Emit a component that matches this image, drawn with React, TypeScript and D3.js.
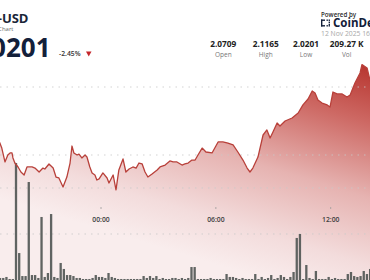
import React from "react";
import * as d3 from "d3";

const W = 370;
const H = 280;

// ---- data ----
const priceTimes = [
  "18:40","18:43","18:49","18:59","19:08","19:15","19:21","19:24","19:30","19:40",
  "19:49","19:59","20:08","20:24","20:33","20:46","20:58","21:04","21:17","21:30",
  "21:39","21:48","22:01","22:13","22:23","22:29","22:35","22:45","22:51","23:00",
  "23:10","23:16","23:25","23:32","23:41","23:47","23:54","00:06","00:19","00:25",
  "00:38","00:47","00:56","01:09","01:18","01:28","01:40","01:50","01:59","02:09",
  "02:18","02:27","02:40","02:56","03:05","03:21","03:36","03:46","03:58","04:14",
  "04:23","04:33","04:45","04:55","05:04","05:17","05:29","05:48","06:07","06:22",
  "06:38","06:54","07:09","07:25","07:38","07:47","07:56","08:12","08:28","08:40",
  "08:50","08:59","09:12","09:21","09:37","09:59","10:18","10:33","10:49","11:02",
  "11:11","11:20","11:33","11:49","11:58","12:07","12:20","12:36","12:51","13:01",
  "13:16","13:32","13:38","13:54","14:03","14:10"
];
const prices = [
  2.0603,2.0588,2.0551,2.0449,2.0500,2.0515,2.0515,2.0478,2.0441,2.0412,
  2.0375,2.0353,2.0412,2.0412,2.0404,2.0375,2.0404,2.0397,2.0434,2.0404,
  2.0338,2.0331,2.0265,2.0338,2.0441,2.0566,2.0515,2.0500,2.0507,2.0478,
  2.0500,2.0485,2.0412,2.0368,2.0353,2.0316,2.0324,2.0368,2.0331,2.0294,
  2.0353,2.0243,2.0390,2.0471,2.0375,2.0397,2.0412,2.0404,2.0441,2.0434,
  2.0375,2.0338,2.0360,2.0390,2.0412,2.0426,2.0456,2.0449,2.0449,2.0426,
  2.0434,2.0441,2.0463,2.0463,2.0500,2.0551,2.0522,2.0515,2.0596,2.0596,
  2.0588,2.0574,2.0522,2.0463,2.0404,2.0375,2.0404,2.0485,2.0647,2.0684,
  2.0625,2.0669,2.0735,2.0713,2.0750,2.0772,2.0809,2.0868,2.0912,2.0971,
  2.0956,2.0904,2.0882,2.0868,2.0853,2.0963,2.0949,2.0949,2.0926,2.0941,
  2.1029,2.1103,2.1165,2.1140,2.1051,2.1015
];

// volume in thousands, one bar every 10 minutes from 18:40
const volumeStart = "18:40";
const volumes = [
  0.22,0.22,0.33,0.11,0.11,12.72,2.93,0.43,0.43,10.65,
  0.54,0.54,0.22,6.85,0.33,0.76,7.17,0.33,0.22,1.85,
  1.20,0.54,0.54,0.43,0.22,0.22,0.11,0.11,0.11,0.22,
  0.54,0.33,0.33,0.22,0.76,0.33,0.22,0.11,0.11,0.11,
  0.11,0.11,0.11,0.11,0.11,0.43,0.22,0.43,0.22,0.43,
  0.11,0.22,0.11,0.11,0.22,0.22,0.11,0.22,0.11,0.22,
  1.41,1.41,0.11,0.11,0.11,0.11,0.22,0.11,0.11,0.11,
  0.11,0.65,0.33,0.33,0.22,0.11,0.22,0.11,0.11,0.11,
  0.65,0.11,0.33,0.11,0.22,0.54,0.11,0.22,0.54,0.33,
  0.11,0.33,0.87,4.57,5.00,0.11,1.63,0.22,0.11,0.98,
  0.11,0.11,0.11,0.33,0.11,0.22,0.11,0.11,0.11,0.65,
  0.87,0.43,0.33,0.43,0.98,0.65,1.20,0.50
];

const priceGrid = [2.1, 2.05];
const volumeGrid = [5, 10];
const timeTicks = ["00:00", "06:00", "12:00"];

const statValues = ["2.0709", "2.1165", "2.0201", "209.27 K"];
const statLabels = ["Open", "High", "Low", "Vol"];

const symbol = "XRP-USD";
const lastPrice = "2.0201";
const change = "-2.45%";
const dateText = "12 Nov 2025 16:00";

// ---- helpers ----
function parseT(s: string): Date {
  const [h, m] = s.split(":").map(Number);
  const day = h >= 18 ? 11 : 12;
  return new Date(2025, 10, day, h, m);
}

const FONT = "'Open Sans', 'Noto Sans', sans-serif";

export default function App() {
  const x = d3
    .scaleTime()
    .domain([parseT("00:00"), parseT("12:00")])
    .range([101, 330.7]);
  const y = d3.scaleLinear().domain([2.05, 2.1]).range([155, 87]);
  const yv = d3.scaleLinear().domain([0, 10]).range([280, 188]);

  const pts = priceTimes.map((t, i) => ({ t: parseT(t), p: prices[i] }));
  const line = d3
    .line<{ t: Date; p: number }>()
    .x((d) => x(d.t))
    .y((d) => y(d.p));
  const area = d3
    .area<{ t: Date; p: number }>()
    .x((d) => x(d.t))
    .y0(H)
    .y1((d) => y(d.p));

  const vStart = parseT(volumeStart);
  const bars = volumes.map((v, i) => ({
    t: d3.timeMinute.offset(vStart, i * 10),
    v,
  }));
  const step = x(d3.timeMinute.offset(vStart, 10)) - x(vStart);
  const barW = step * 0.72;

  const statCenters = [223.3, 265.8, 306, 346.7];

  return (
    <svg
      width={W}
      height={H}
      style={{ position: "absolute", left: 0, top: 0, background: "#fff" }}
      fontFamily={FONT}
    >
      <defs>
        <linearGradient
          id="areaGrad"
          gradientUnits="userSpaceOnUse"
          x1={370}
          y1={60}
          x2={300}
          y2={290}
        >
          <stop offset="0" stopColor="#b5302a" />
          <stop offset="0.25" stopColor="#cd6863" />
          <stop offset="0.55" stopColor="#e6b3b1" />
          <stop offset="0.82" stopColor="#f3dcdc" />
          <stop offset="1" stopColor="#f9eded" />
        </linearGradient>
      </defs>

      {/* area */}
      <path d={area(pts) || ""} fill="url(#areaGrad)" />

      {/* grid */}
      {priceGrid.map((g) => (
        <line
          key={"pg" + g}
          x1={0}
          x2={W}
          y1={y(g)}
          y2={y(g)}
          stroke="#c9c9c9"
          strokeWidth={1}
          strokeDasharray="1.5 5"
          opacity={0.8}
        />
      ))}
      {volumeGrid.map((g) => (
        <line
          key={"vg" + g}
          x1={0}
          x2={W}
          y1={yv(g)}
          y2={yv(g)}
          stroke="#c9c9c9"
          strokeWidth={1}
          strokeDasharray="1.5 5"
          opacity={0.8}
        />
      ))}

      {/* volume bars */}
      {bars.map((b, i) => (
        <rect
          key={"b" + i}
          x={x(b.t)}
          y={yv(b.v)}
          width={barW}
          height={yv(0) - yv(b.v)}
          fill="#4f5452"
          opacity={0.9}
        />
      ))}

      {/* price line */}
      <path
        d={line(pts) || ""}
        fill="none"
        stroke="#b8403a"
        strokeWidth={1.3}
        strokeLinejoin="round"
      />

      {/* time ticks */}
      {timeTicks.map((t) => (
        <g key={t} transform={`translate(${x(parseT(t))},0)`}>
          <line y1={207} y2={209} stroke="#999" strokeWidth={0.8} />
          <text
            y={222}
            textAnchor="middle"
            fontSize={6.8}
            fontWeight={600}
            fill="#3d3d3d"
          >
            {t}
          </text>
        </g>
      ))}

      {/* header left */}
      <text x={28.5} y={22.5} textAnchor="end" fontSize={13} fontWeight={700} fill="#1a2638">
        {symbol}
      </text>
      <text x={13.5} y={31} textAnchor="end" fontSize={6} fill="#6a6a6a">
        Price Chart
      </text>
      <text x={50.5} y={57} textAnchor="end" fontSize={26} fontWeight={700} fill="#13203a">
        {lastPrice}
      </text>
      <text x={59} y={56} fontSize={6.8} fontWeight={600} fill="#333">
        {change}
      </text>
      <path d="M86,51.5 L91.5,51.5 L88.75,56.5 Z" fill="#c4262b" />

      {/* header right */}
      <text x={321} y={16.5} fontSize={6.2} fontWeight={600} fill="#2b2b2b">
        Powered by
      </text>
      <g fill="#13203a">
        <rect x={321} y={19.5} width={1.4} height={7} />
        <rect x={321} y={19.5} width={4} height={1.4} />
        <rect x={321} y={25.1} width={4} height={1.4} />
        <rect x={326.5} y={19.5} width={1.4} height={1.4} />
        <rect x={328.6} y={19.5} width={1.4} height={1.4} />
        <rect x={328.6} y={21.6} width={1.4} height={1.4} />
        <rect x={328.6} y={23.7} width={1.4} height={1.4} />
        <rect x={326.5} y={25.1} width={1.4} height={1.4} />
        <rect x={328.6} y={25.1} width={1.4} height={1.4} />
      </g>
      <text x={333} y={27} fontSize={11.5} fontWeight={700} fill="#13203a">
        CoinDesk
      </text>
      <text x={321} y={36} fontSize={6.8} fill="#a8a8a8">
        {dateText}
      </text>

      {/* stats */}
      {statValues.map((v, i) => (
        <g key={"s" + i} transform={`translate(${statCenters[i]},0)`}>
          <text y={47} textAnchor="middle" fontSize={8.3} fontWeight={700} fill="#222">
            {v}
          </text>
          <text y={57} textAnchor="middle" fontSize={6.5} fill="#777">
            {statLabels[i]}
          </text>
        </g>
      ))}
    </svg>
  );
}
